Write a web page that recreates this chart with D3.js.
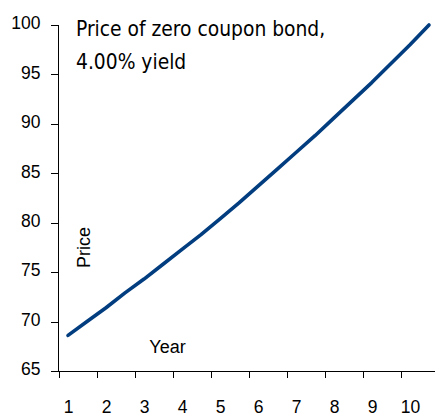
<!DOCTYPE html>
<html>
<head>
    <title>zero coupon bond price</title>
</head>
<meta charset="utf-8">
<style type="text/css">
    html, body {
        margin: 0;
        background: #fff;
    }

    svg text {
        font-family: "Liberation Sans", Arial, sans-serif;
        fill: #000;
    }

    .title {
        font-family: "DejaVu Sans", sans-serif !important;
        font-stretch: condensed;
        font-size: 20.8px;
    }

    .axis path, .axis line {
        stroke: #000;
        shape-rendering: crispEdges;
    }
</style>

<body>
<svg id="wrapper" width="435" height="415"></svg>

<script type="text/javascript" src="https://d3js.org/d3.v7.min.js"></script>

<script>
    "use strict";

    // half-year periods, a label every second period
    const periods = [1, 2, 3, 4, 5, 6, 7, 8, 9, 10, 11, 12, 13, 14, 15, 16, 17, 18, 19, 20];
    const yearLabels = ["1", "2", "3", "4", "5", "6", "7", "8", "9", "10"];
    const prices = [68.6, 70.0, 71.4, 72.9, 74.3, 75.8, 77.3, 78.8, 80.4, 82.0,
                    83.7, 85.4, 87.1, 88.8, 90.6, 92.4, 94.2, 96.1, 98.0, 100.0];
    const priceTicks = [65, 70, 75, 80, 85, 90, 95, 100];
    const titleLines = ["Price of zero coupon bond,", "4.00% yield"];

    const svg = d3.select("svg");

    const plotLeft = 58.5, plotRight = 438.5, plotTop = 25, plotBottom = 371;

    const x = d3.scaleBand()
        .domain(periods)
        .range([plotLeft, plotRight])
        .paddingInner(0)
        .paddingOuter(0);

    const y = d3.scaleLinear()
        .domain([65, 100])
        .range([plotBottom, plotTop]);

    const cx = d => x(d) + x.bandwidth() / 2;

    // y axis
    const yAxis = svg.append("g")
        .attr("class", "axis")
        .attr("transform", "translate(" + plotLeft + ",0)")
        .call(d3.axisLeft(y).tickValues(priceTicks).tickSize(8).tickSizeOuter(0).tickFormat(d3.format("d")));
    yAxis.selectAll("text")
        .attr("x", -18)
        .attr("dy", "0.3em")
        .attr("transform", "translate(0,-1.5)")
        .style("font-size", "17.5px");
    yAxis.select(".domain").attr("d", "M0," + (plotTop - 0.5) + "V" + plotBottom);

    // x axis: ticks every second period, labels centred on odd periods
    const xAxis = svg.append("g")
        .attr("class", "axis")
        .attr("transform", "translate(0," + plotBottom + ")");
    xAxis.append("line")
        .attr("x1", plotLeft).attr("x2", 435)
        .attr("y1", 0).attr("y2", 0);
    xAxis.selectAll(".tick")
        .data(periods.filter((p, i) => i % 2 === 0))
        .enter().append("line")
        .attr("class", "tick")
        .attr("x1", d => Math.round(x(d)) + 0.5)
        .attr("x2", d => Math.round(x(d)) + 0.5)
        .attr("y1", 0).attr("y2", 7);
    xAxis.selectAll(".lbl")
        .data(yearLabels)
        .enter().append("text")
        .attr("class", "lbl")
        .attr("x", (d, i) => cx(periods[i * 2]) + 0.5)
        .attr("y", 41.5)
        .attr("text-anchor", "middle")
        .style("font-size", "17.5px")
        .text(d => d);

    // price line
    const line = d3.line()
        .x((d, i) => cx(periods[i]))
        .y(d => y(d));

    svg.append("path")
        .datum(prices)
        .attr("fill", "none")
        .attr("stroke", "#023d80")
        .attr("stroke-width", 3.6)
        .attr("stroke-linejoin", "round")
        .attr("stroke-linecap", "round")
        .attr("d", line);

    // title
    svg.append("text")
        .attr("class", "title")
        .selectAll("tspan")
        .data(titleLines)
        .enter().append("tspan")
        .attr("x", 76)
        .attr("y", (d, i) => 36 + i * 33)
        .text(d => d);

    // axis titles inside the plot
    svg.append("text")
        .attr("transform", "translate(90,247.5) rotate(-90)")
        .attr("text-anchor", "middle")
        .style("font-size", "18px")
        .text("Price");

    svg.append("text")
        .attr("x", 167.5)
        .attr("y", 353)
        .attr("text-anchor", "middle")
        .style("font-size", "18px")
        .text("Year");
</script>
</body>
</html>
